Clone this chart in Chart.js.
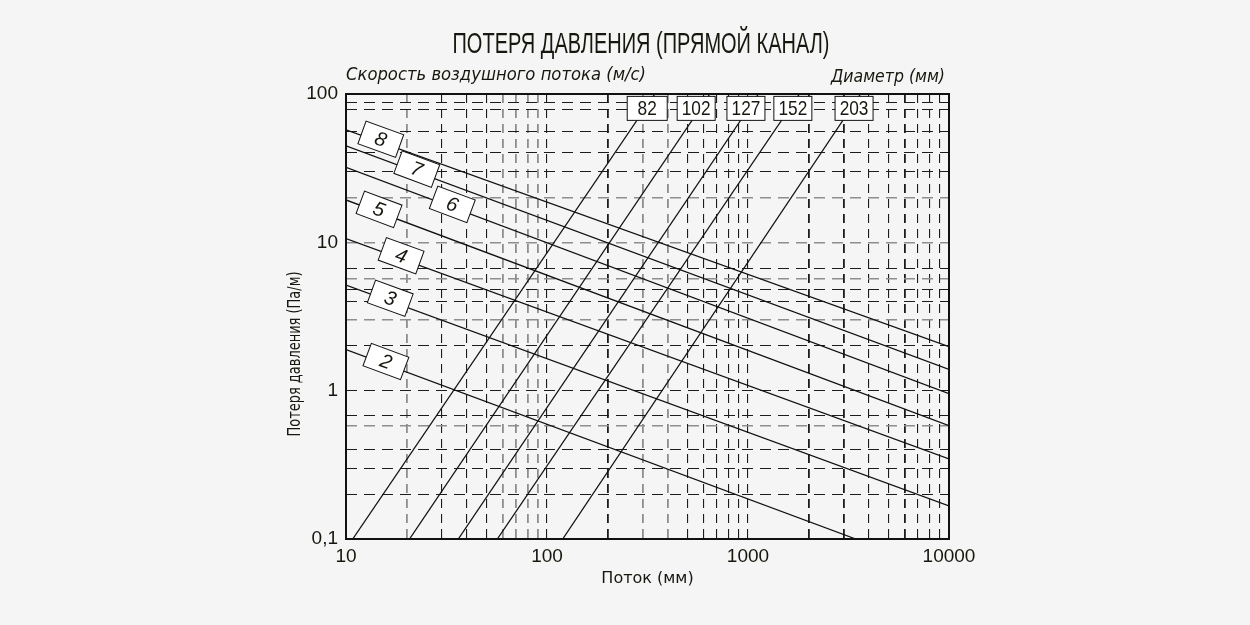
<!DOCTYPE html>
<html lang="ru">
<head>
<meta charset="utf-8">
<title>Потеря давления (прямой канал)</title>
<script src="https://cdn.jsdelivr.net/npm/chart.js@4.4.1/dist/chart.umd.min.js"></script>
<style>
  html, body { margin: 0; padding: 0; background: #f4f5f4; }
  #wrap { width: 1250px; height: 625px; }
</style>
</head>
<body>
<div id="wrap"><canvas id="lossChart" width="1250" height="625"></canvas></div>
<script>
// air velocity lines, m/s: [flow at start, flow at end] and [loss at start, loss at end]
const velocityNames = ['2', '3', '4', '5', '6', '7', '8'];
const velocityFlow = [[10, 3440], [10, 10000], [10, 10000], [10, 10000], [10, 10000], [10, 10000], [10, 10000]];
const velocityLoss = [[1.89, 0.1], [5.15, 0.167], [10.6, 0.347], [19.3, 0.58], [32.0, 0.955], [44.7, 1.39], [57.4, 1.98]];

// duct diameter lines, mm: flow where the line crosses 0.1 and 100 Pa/m
const diameterNames = ['82', '102', '127', '152', '203'];
const diameterFlow = [[10.8, 344], [20.7, 646], [36.2, 1127], [56.6, 1803], [119.7, 3631]];
const diameterLoss = [0.1, 100];

// axis ticks and extra grid lines
const flowTicks = [10, 100, 1000, 10000];
const flowGrid = [20, 30, 40, 50, 60, 70, 80, 90, 200, 300, 400, 500, 600, 700, 800, 900,
                  2000, 3000, 4000, 5000, 6000, 7000, 8000, 9000];
const lossTicks = [0.1, 1, 10, 100];
const lossGrid = [0.2, 0.3, 0.4, 0.58, 0.68, 2, 3, 4, 4.8, 5.7, 6.7, 20, 30, 40, 56, 78, 88];

// where the boxed labels sit (flow for velocity labels, loss for diameter labels)
const velocityLabelAt = [15.8, 16.6, 18.8, 14.6, 33.8, 22.5, 14.9];
const diameterLabelAt = [84, 73, 75, 86, 86];

const greyFlow = [20, 60, 70, 80, 90, 300, 400];
const boldFlow = [200, 2000, 3000, 6000];
const greyLoss = [0.58, 3, 5.7, 10, 20];

const sans = '"Liberation Sans", sans-serif';
const ink = '#17170f';

// draws text squeezed or stretched to a given width
function fitText(ctx, text, x, y, width, font, align) {
  ctx.save();
  ctx.font = font;
  const k = width / ctx.measureText(text).width;
  ctx.translate(x, y);
  ctx.scale(k, 1);
  ctx.textAlign = align;
  ctx.textBaseline = 'middle';
  ctx.fillText(text, 0, 0);
  ctx.restore();
}

// log-log interpolation along a two point line
function along(p0, p1, q0, q1, p) {
  const t = Math.log(p / p0) / Math.log(p1 / p0);
  return q0 * Math.pow(q1 / q0, t);
}

const labelsPlugin = {
  id: 'labels',
  afterDatasetsDraw(chart) {
    const {ctx, chartArea: a, scales: {x, y}} = chart;
    ctx.save();
    ctx.strokeStyle = '#111';
    ctx.lineWidth = 2;
    ctx.strokeRect(a.left, a.top, a.right - a.left, a.bottom - a.top);

    // velocity boxes, turned along their line
    velocityNames.forEach((name, i) => {
      const f = velocityFlow[i], l = velocityLoss[i];
      const fx = velocityLabelAt[i];
      const px = x.getPixelForValue(fx);
      const py = y.getPixelForValue(along(f[0], f[1], l[0], l[1], fx));
      const ang = Math.atan2(y.getPixelForValue(l[1]) - y.getPixelForValue(l[0]),
                             x.getPixelForValue(f[1]) - x.getPixelForValue(f[0]));
      ctx.save();
      ctx.translate(px, py - 3);
      ctx.rotate(ang);
      ctx.fillStyle = '#fff';
      ctx.fillRect(-20, -12, 40, 24);
      ctx.lineWidth = 1;
      ctx.strokeStyle = '#111';
      ctx.strokeRect(-20, -12, 40, 24);
      ctx.fillStyle = ink;
      ctx.font = 'italic 20px ' + sans;
      ctx.textAlign = 'center';
      ctx.textBaseline = 'middle';
      ctx.fillText(name, 0, 1);
      ctx.restore();
    });

    // diameter boxes near the top
    diameterNames.forEach((name, i) => {
      const f = diameterFlow[i];
      const fx = along(diameterLoss[0], diameterLoss[1], f[0], f[1], diameterLabelAt[i]);
      const px = x.getPixelForValue(fx);
      const py = y.getPixelForValue(80);
      const w = name.length > 2 ? 38 : 40;
      ctx.fillStyle = '#fff';
      ctx.fillRect(px - w / 2, py - 12, w, 24);
      ctx.lineWidth = 1;
      ctx.strokeStyle = '#111';
      ctx.strokeRect(px - w / 2, py - 12, w, 24);
      ctx.fillStyle = ink;
      fitText(ctx, name, px, py + 1, name.length * 9.6, '21px ' + sans, 'center');
    });
    ctx.restore();
  },
  afterDraw(chart) {
    const {ctx, chartArea: a} = chart;
    ctx.save();
    ctx.fillStyle = ink;
    fitText(ctx, 'ПОТЕРЯ ДАВЛЕНИЯ (ПРЯМОЙ КАНАЛ)', 641, 45, 377, '30px ' + sans, 'center');
    fitText(ctx, 'Скорость воздушного потока (м/с)', a.left, 76, 300, 'italic 17px "DejaVu Sans", sans-serif', 'left');
    fitText(ctx, 'Диаметр (мм)', a.right - 4, 78, 114, 'italic 17px "DejaVu Sans", sans-serif', 'right');
    ctx.translate(296, 354);
    ctx.rotate(-Math.PI / 2);
    fitText(ctx, 'Потеря давления (Па/м)', 0, 0, 165, '17px "DejaVu Sans", sans-serif', 'center');
    ctx.restore();
  }
};

const datasets = [];
velocityNames.forEach((name, i) => {
  datasets.push({
    label: name + ' м/с',
    data: velocityFlow[i].map((f, k) => ({x: f, y: velocityLoss[i][k]}))
  });
});
diameterNames.forEach((name, i) => {
  datasets.push({
    label: name + ' мм',
    data: diameterFlow[i].map((f, k) => ({x: f, y: diameterLoss[k]}))
  });
});
datasets.forEach(d => {
  d.showLine = true;
  d.borderColor = '#111';
  d.borderWidth = 1.3;
  d.pointRadius = 0;
  d.fill = false;
});

const ctx = document.getElementById('lossChart').getContext('2d');
const lossChart = new Chart(ctx, {
  type: 'scatter',
  data: { datasets: datasets },
  options: {
    responsive: false,
    animation: false,
    layout: { padding: { left: 280, right: 301, top: 94, bottom: 30 } },
    plugins: {
      legend: { display: false },
      tooltip: { enabled: false }
    },
    scales: {
      x: {
        type: 'logarithmic',
        min: 10,
        max: 10000,
        afterBuildTicks: s => {
          s.ticks = flowTicks.concat(flowGrid).sort((p, q) => p - q).map(v => ({ value: v }));
        },
        afterFit: s => { s.height = 56; },
        ticks: {
          autoSkip: false,
          maxRotation: 0,
          padding: 6,
          color: ink,
          font: { family: sans, size: 19 },
          callback: v => flowTicks.includes(v) ? String(v) : ''
        },
        grid: {
          drawTicks: false,
          color: c => c.tick && greyFlow.includes(c.tick.value) ? '#8e8e8e' : '#1c1c1c',
          lineWidth: c => {
            if (!c.tick) return 1;
            if (greyFlow.includes(c.tick.value)) return 1.8;
            return boldFlow.includes(c.tick.value) ? 1.8 : 1.1;
          }
        },
        border: { display: false, dash: [9, 6] },
        title: {
          display: true,
          text: 'Поток (мм)',
          color: ink,
          font: { family: '"DejaVu Sans", sans-serif', size: 16 },
          padding: { top: 4, bottom: 7 }
        }
      },
      y: {
        type: 'logarithmic',
        min: 0.1,
        max: 100,
        afterBuildTicks: s => {
          s.ticks = lossTicks.concat(lossGrid).sort((p, q) => p - q).map(v => ({ value: v }));
        },
        afterFit: s => { s.width = 66; },
        ticks: {
          autoSkip: false,
          padding: 8,
          color: ink,
          font: { family: sans, size: 19 },
          callback: v => lossTicks.includes(v) ? String(v).replace('.', ',') : ''
        },
        grid: {
          drawTicks: false,
          color: c => c.tick && greyLoss.includes(c.tick.value) ? '#8e8e8e' : '#1c1c1c',
          lineWidth: c => c.tick && greyLoss.includes(c.tick.value) ? 1.6 : 1.1
        },
        border: { display: false, dash: [11, 7] }
      }
    }
  },
  plugins: [labelsPlugin]
});
</script>
</body>
</html>
